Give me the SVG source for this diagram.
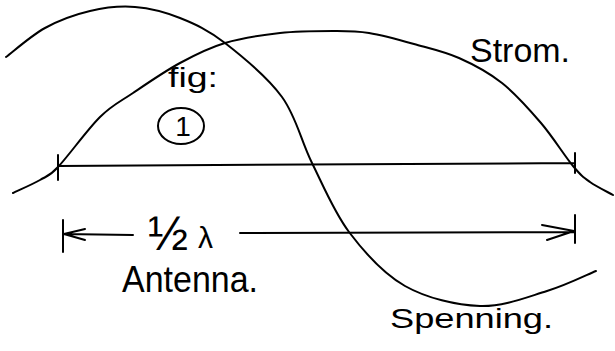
<svg xmlns="http://www.w3.org/2000/svg" width="615" height="351" viewBox="0 0 615 351">
<style>
.ln{fill:none;stroke:#000;stroke-width:2;stroke-linecap:round;stroke-linejoin:round}
.t{font-family:"Liberation Sans","DejaVu Sans",sans-serif;fill:#000}
</style>
<rect width="615" height="351" fill="#fff"/>
<g id="spenning-curve">
<path class="ln" d="M6,57 C12.5,52.2 31,35.7 45,28 C59,20.3 75,14.5 90,11 C105,7.5 120,5.8 135,7 C150,8.2 165,12 180,18 C195,24 208,29.8 225,43 C242,56.2 267.5,77 282,97 C296.5,117 300.8,140.5 312,163 C323.2,185.5 333.8,211.7 349,232 C364.5,252.5 383.2,273.7 405,286 C426.8,298.3 456.3,305.2 480,306 C503.7,306.8 527.7,296.8 547,291 C566.3,285.2 587.8,274.3 596,271"/>
</g>
<g id="strom-curve">
<path class="ln" d="M13,193 C17.5,190.8 32.5,184.3 40,180 C47.5,175.7 50,176 58,167 C68,156.5 87.5,129.3 100,117 C112.5,104.7 119.7,102 133,93 C146.3,84 164.7,71.3 180,63 C195.3,54.7 208.3,48 225,43 C241.7,38 262,35 280,33 C298,31 318.2,31 333,31 C347.8,31 355.5,30.8 369,33 C382.5,35.2 399,39.8 414,44 C429,48.2 444.3,51.5 459,58 C473.7,64.5 488.3,72.2 502,83 C515.7,93.8 529.2,109.2 541,123 C552.8,136.8 564.8,156.2 573,166 C581.2,175.8 583.3,177.2 590,182 C596.7,186.8 609.2,192.8 613,195"/>
</g>
<g id="antenna-line">
<path class="ln" d="M58,166 L575,163 M58,155 L58,180 M575,153 L575,173"/>
</g>
<g id="connectors">
<path class="ln" d="M63,220 L63,252 M63,234 L133,235 M85,229 L64,234 L85,240"/>
<path class="ln" d="M240,233 L575,232 M575,215 L575,243 M542,225 L574,231 L547,240"/>
</g>
<g id="label-strom"><text class="t" x="470" y="62" font-size="33" textLength="100" lengthAdjust="spacingAndGlyphs">Strom.</text></g>
<g id="label-fig"><text class="t" x="168" y="87" font-size="28" textLength="50" lengthAdjust="spacingAndGlyphs">fig:</text></g>
<g id="label-fig-number">
<ellipse class="ln" cx="181" cy="126" rx="23" ry="18"/>
<text class="t" x="183" y="136" font-size="28" text-anchor="middle">1</text>
</g>
<g id="label-half-lambda"><text class="t" y="250"><tspan x="148" font-size="48">½</tspan><tspan x="198" y="248" font-size="30">λ</tspan></text></g>
<g id="label-antenna"><text class="t" x="122" y="292" font-size="36" textLength="136" lengthAdjust="spacingAndGlyphs">Antenna.</text></g>
<g id="label-spenning"><text class="t" x="390" y="328" font-size="27" textLength="163" lengthAdjust="spacingAndGlyphs">Spenning.</text></g>
</svg>
